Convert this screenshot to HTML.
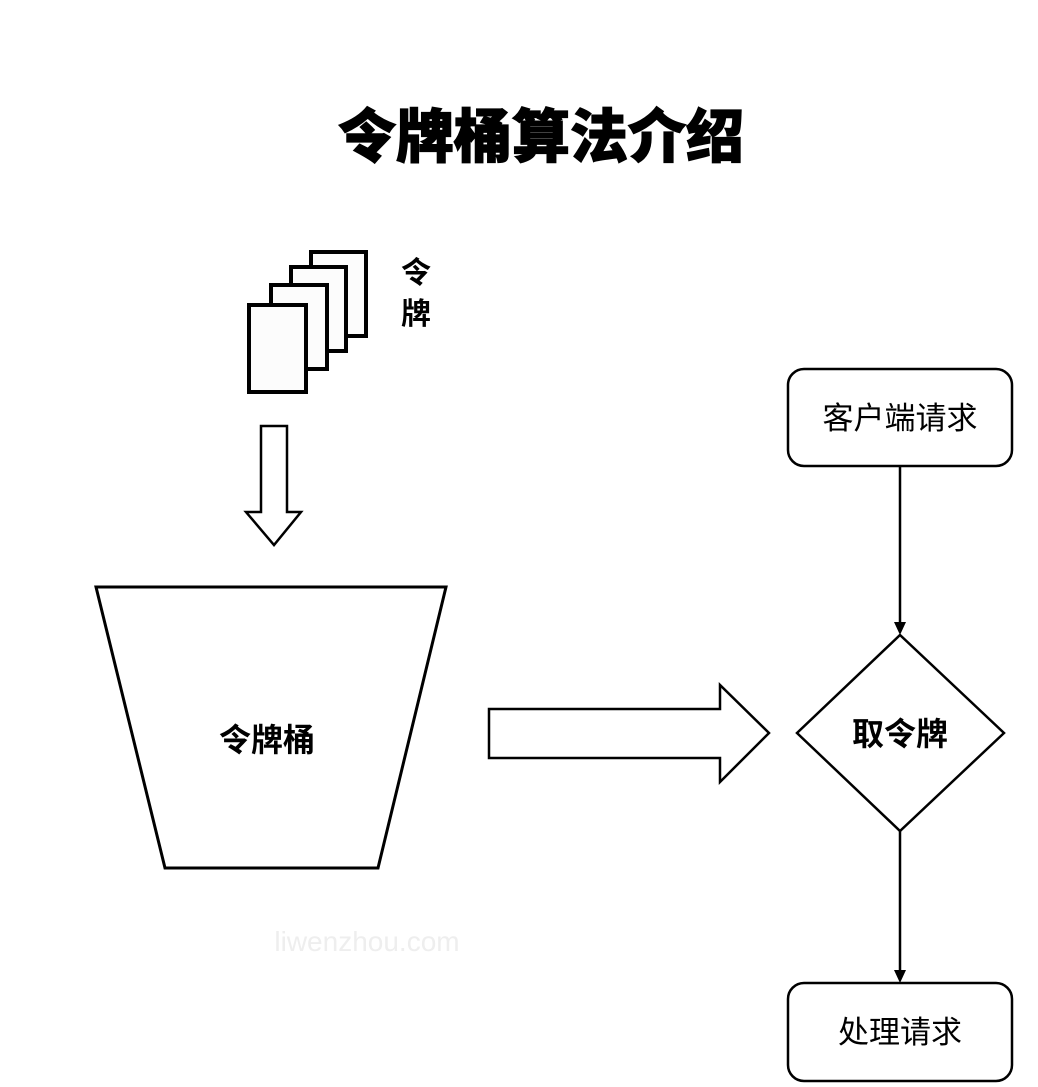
<!DOCTYPE html>
<html><head><meta charset="utf-8"><style>
html,body{margin:0;padding:0;background:#fff;}
svg{display:block;}
text{font-family:"Liberation Sans","Noto Sans CJK SC",sans-serif;}
</style></head><body>
<svg width="1038" height="1087" viewBox="0 0 1038 1087" xmlns="http://www.w3.org/2000/svg">
<rect width="1038" height="1087" fill="#fff"/>
<text x="541" y="157" text-anchor="middle" font-size="58" font-weight="900" fill="#000" stroke="#000" stroke-width="1.2" style="font-family:'Noto Sans CJK SC',sans-serif">令牌桶算法介绍</text>
<g fill="#fcfcfc" stroke="#000" stroke-width="4">
<rect x="311" y="252" width="55" height="84"/>
<rect x="291" y="267" width="55" height="84"/>
<rect x="271" y="285" width="56" height="84"/>
<rect x="249" y="305" width="57" height="87"/>
</g>
<text x="416" y="283" text-anchor="middle" font-size="30" font-weight="bold" style="font-family:'Noto Sans CJK SC',sans-serif">令</text>
<text x="416" y="324" text-anchor="middle" font-size="30" font-weight="bold" style="font-family:'Noto Sans CJK SC',sans-serif">牌</text>
<polygon points="261,426 287,426 287,512 301,512 274,545 246,512 261,512" fill="#fff" stroke="#000" stroke-width="2.5"/>
<polygon points="96,587 446,587 378,868 165,868" fill="#fff" stroke="#000" stroke-width="3"/>
<text x="267" y="751" text-anchor="middle" font-size="32" font-weight="bold" style="font-family:'Noto Sans CJK SC',sans-serif">令牌桶</text>
<text x="367" y="951" text-anchor="middle" font-size="28" fill="#eeeeee">liwenzhou.com</text>
<polygon points="489,709 720,709 720,685 769,733 720,782 720,758 489,758" fill="#fff" stroke="#000" stroke-width="2.5"/>
<rect x="788" y="369" width="224" height="97" rx="16" fill="#fff" stroke="#000" stroke-width="2.5"/>
<text x="900" y="429" text-anchor="middle" font-size="31" style="font-family:'Noto Sans CJK SC',sans-serif">客户端请求</text>
<line x1="900" y1="466" x2="900" y2="624" stroke="#000" stroke-width="2.5"/>
<polygon points="894,622 906,622 900,635" fill="#000"/>
<polygon points="900,635 1004,733 900,831 797,733" fill="#fff" stroke="#000" stroke-width="2.5"/>
<text x="900" y="745" text-anchor="middle" font-size="32" font-weight="bold" style="font-family:'Noto Sans CJK SC',sans-serif">取令牌</text>
<line x1="900" y1="831" x2="900" y2="972" stroke="#000" stroke-width="2.5"/>
<polygon points="894,970 906,970 900,983" fill="#000"/>
<rect x="788" y="983" width="224" height="98" rx="16" fill="#fff" stroke="#000" stroke-width="2.5"/>
<text x="900" y="1043" text-anchor="middle" font-size="31" style="font-family:'Noto Sans CJK SC',sans-serif">处理请求</text>
</svg>
</body></html>
